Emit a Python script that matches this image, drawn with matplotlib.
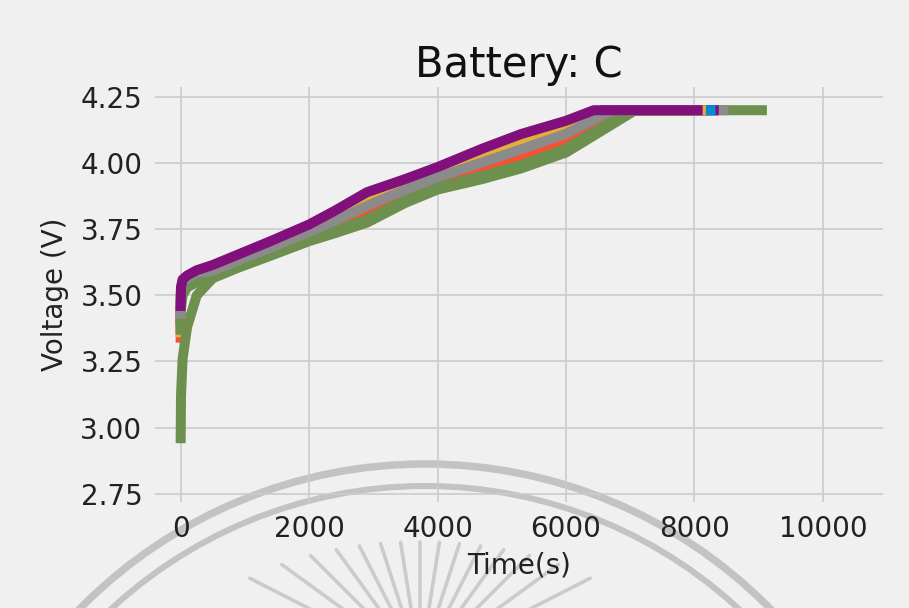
import numpy as np
import matplotlib
matplotlib.use("Agg")
import matplotlib.pyplot as plt
from matplotlib.patches import Circle

BG = "#f0f0f0"
COLORS = ["#008fd5", "#fc4f30", "#e5ae38", "#6d904f", "#8b8b8b", "#810f7c"]

# charge cycles of battery C: time knots (s) shared by every cycle during the
# constant-current ramp, then the time 4.2 V is hit and the end of the CV hold
knots = [0, 5, 30, 100, 250, 500, 900, 1400, 2000, 2400, 2900, 3500, 4000, 4700, 5300, 6000]

v_cycle00 = [3.40, 3.515, 3.545, 3.56, 3.575, 3.583, 3.623, 3.669, 3.727, 3.765, 3.815, 3.882, 3.93, 3.98, 4.026, 4.089]
v_cycle01 = [3.34, 3.50, 3.535, 3.55, 3.565, 3.575, 3.615, 3.661, 3.718, 3.752, 3.798, 3.868, 3.917, 3.963, 4.006, 4.072]
v_cycle02 = [3.36, 3.51, 3.545, 3.56, 3.58, 3.595, 3.635, 3.683, 3.743, 3.786, 3.844, 3.904, 3.951, 4.009, 4.058, 4.116]
v_cycle03 = [2.96, 3.12, 3.26, 3.38, 3.50, 3.565, 3.605, 3.65, 3.705, 3.735, 3.775, 3.85, 3.90, 3.94, 3.98, 4.04]
v_cycle04 = [3.42, 3.52, 3.55, 3.565, 3.585, 3.59, 3.63, 3.678, 3.737, 3.778, 3.833, 3.895, 3.943, 3.998, 4.045, 4.105]
v_cycle05 = [3.44, 3.525, 3.555, 3.57, 3.59, 3.605, 3.645, 3.694, 3.755, 3.803, 3.867, 3.922, 3.968, 4.032, 4.084, 4.138]
v_cycle06 = [3.41, 3.52, 3.55, 3.565, 3.58, 3.588, 3.628, 3.675, 3.733, 3.773, 3.827, 3.891, 3.938, 3.992, 4.039, 4.10]
v_cycle07 = [3.38, 3.51, 3.54, 3.555, 3.57, 3.58, 3.62, 3.667, 3.724, 3.761, 3.81, 3.877, 3.926, 3.975, 4.019, 4.083]
v_cycle08 = [3.43, 3.525, 3.555, 3.57, 3.59, 3.60, 3.64, 3.689, 3.749, 3.795, 3.856, 3.913, 3.96, 4.021, 4.071, 4.127]
v_cycle09 = [3.37, 3.45, 3.50, 3.53, 3.55, 3.57, 3.61, 3.656, 3.711, 3.744, 3.787, 3.859, 3.909, 3.952, 3.993, 4.055]
v_cycle10 = [3.43, 3.52, 3.55, 3.565, 3.585, 3.593, 3.633, 3.68, 3.74, 3.782, 3.838, 3.90, 3.947, 4.003, 4.052, 4.111]
v_cycle11 = [3.46, 3.53, 3.56, 3.575, 3.595, 3.615, 3.655, 3.705, 3.768, 3.82, 3.89, 3.94, 3.985, 4.055, 4.11, 4.16]

cycles = [v_cycle00, v_cycle01, v_cycle02, v_cycle03, v_cycle04, v_cycle05,
          v_cycle06, v_cycle07, v_cycle08, v_cycle09, v_cycle10, v_cycle11]
t_full = [6850, 6950, 6690, 7080, 6750, 6560, 6790, 6880, 6620, 7010, 6720, 6430]
t_end = [8300, 8150, 8250, 9050, 8450, 8300, 8250, 8000, 8100, 8000, 7950, 8050]
V_MAX = 4.2

xticks = [0, 2000, 4000, 6000, 8000, 10000]
yticks = [2.75, 3.00, 3.25, 3.50, 3.75, 4.00, 4.25]


def _watermark(fig):
    """Faint seal behind the chart: two arcs and a sunburst, in pixel coords."""
    wm = fig.add_axes([0, 0, 1, 1], zorder=-1)
    wm.set_xlim(0, 909)
    wm.set_ylim(608, 0)
    wm.axis("off")
    wm.patch.set_visible(False)
    for r, lw in ((484, 5.4), (462, 4.4)):
        wm.add_patch(Circle((425, 948), r, fill=False, color="#c3c3c3", lw=lw))
    cx, cy = 420, 665
    for ang in np.arange(27, 154, 9):
        a = np.radians(ang)
        ux, uy = np.cos(a), np.sin(a)
        r_tip = 1 / np.sqrt((ux / 240) ** 2 + (uy / 123) ** 2)
        r_in = r_tip - 130
        wm.plot([cx - r_tip * ux, cx - r_in * ux], [cy - r_tip * uy, cy - r_in * uy],
                color="#cbcbcb", lw=2.6, solid_capstyle="round")


fig = plt.figure(figsize=(9.09, 6.08), dpi=100, facecolor=BG)
ax = fig.add_axes([0.1705, 0.174, 0.8005, 0.683])
ax.patch.set_visible(False)
_watermark(fig)

for i, volts in enumerate(cycles):
    t = knots + [t_full[i], t_end[i]]
    v = volts + [V_MAX, V_MAX]
    ax.plot(t, v, color=COLORS[i % len(COLORS)], lw=7.2, solid_joinstyle="round")

ax.set_xlim(-400, 10930)
ax.set_ylim(2.718, 4.288)
ax.set_xticks(xticks)
ax.set_yticks(yticks)
ax.set_yticklabels([f"{y:.2f}" for y in yticks])
ax.tick_params(length=0, labelsize=20, labelcolor="#222222", pad=9)
ax.grid(True, color="#cbcbcb", lw=1.2)
ax.set_axisbelow(True)
for s in ax.spines.values():
    s.set_visible(False)

ax.set_title("Battery: C", fontsize=30, pad=7, color="#111111")
ax.set_xlabel("Time(s)", fontsize=20, labelpad=6, color="#222222")
ax.set_ylabel("Voltage (V)", fontsize=20, labelpad=8, color="#222222")

fig.savefig("out.png", dpi=100, facecolor=BG)
